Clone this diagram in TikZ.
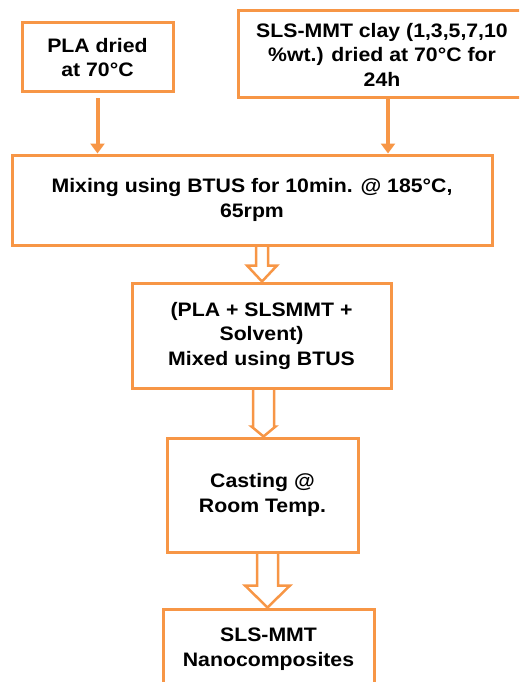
\documentclass[tikz,border=0pt]{standalone}
\usepackage{fontspec}
\setmainfont[FakeStretch=1.09]{Liberation Sans}
\usepackage{tikz}
\usetikzlibrary{calc,arrows.meta}
\usepackage{xcolor}
\definecolor{flowor}{RGB}{247,150,70}

\tikzset{
  stepbox/.style={draw=flowor, line width=3pt, align=center, inner sep=0pt,
    font=\fontsize{19.5}{24.5}\selectfont\bfseries},
  feed/.style={draw=flowor, line width=4pt, -{Triangle[width=14pt,length=10pt]}},
  hollow/.style={draw=flowor, line width=2.5pt, line join=miter}
}

% hollow block arrow: from, to, axis coordinate, shaft half, head half, head length
\newcommand{\fatarrow}[6]{%
  \draw[hollow] ($(#1.south -| #3)+(-#4,0)$) -- ($(#2.north -| #3)+(-#4,-#6)$)
    -- ($(#2.north -| #3)+(-#5,-#6)$) -- (#2.north -| #3)
    -- ($(#2.north -| #3)+(#5,-#6)$) -- ($(#2.north -| #3)+(#4,-#6)$)
    -- ($(#1.south -| #3)+(#4,0)$);}

\begin{document}
\begin{tikzpicture}[x=1pt,y=-1pt]
\useasboundingbox (0,0) rectangle (519,682);
\clip (0,0) rectangle (519,682);

\node [stepbox, minimum width=151pt, minimum height=69pt] (pla) at (97.5,57.5)
  {PLA dried\\at 70°C};
\node [stepbox, minimum width=288pt, minimum height=87pt] (clay) at (382,54.5)
  {SLS-MMT clay (1,3,5,7,10\\\%wt.) dried at 70°C for\\24h};
\node [stepbox, minimum width=480pt, minimum height=90pt] (mix) at (252,200)
  {Mixing using BTUS for 10min. @ 185°C,\\65rpm};
\node [stepbox, minimum width=259pt, minimum height=105pt] (blend) at (261.5,335.5)
  {(PLA + SLSMMT +\\Solvent)\\Mixed using BTUS};
\node [stepbox, minimum width=191pt, minimum height=114pt] (cast) at (262.5,495)
  {Casting @\\Room Temp.};
\node [stepbox, minimum width=211pt, minimum height=80pt] (nano) at (268.5,649)
  {SLS-MMT\\Nanocomposites};

\coordinate (ax1) at (262,0);
\coordinate (ax2) at (263.5,0);
\coordinate (ax3) at (267.5,0);

\draw [feed, shorten <=5pt] (pla.south) -- (pla.south |- mix.north);
\draw [feed] ([xshift=6pt]clay.south) -- ([xshift=6pt]clay.south |- mix.north);

\fatarrow{mix}{blend}{ax1}{6}{15}{16}
\fatarrow{blend}{cast}{ax2}{10.5}{12}{10}
\fatarrow{cast}{nano}{ax3}{10.5}{22.5}{22}
\end{tikzpicture}
\end{document}
